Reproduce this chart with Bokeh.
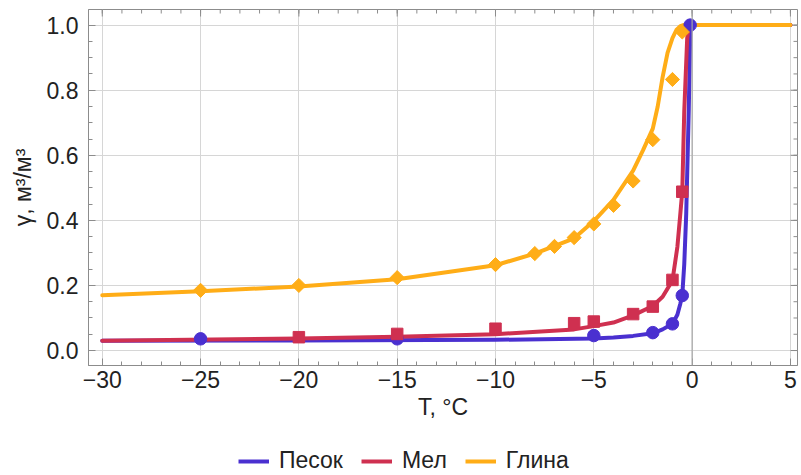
import numpy as np
from bokeh.plotting import figure
from bokeh.layouts import column
from bokeh.models import (Range1d, LinearAxis, SingleIntervalTicker, FixedTicker,
                          Span, Legend, LegendItem)
from bokeh.embed import file_html
from bokeh.resources import INLINE

# ---------------- data ----------------
# measured points
sand_t = [-25, -15, -5, -2, -1, -0.5, -0.1]
sand_y = [0.036, 0.036, 0.046, 0.055, 0.082, 0.169, 1.0]

chalk_t = [-20, -15, -10, -6, -5, -3, -2, -1, -0.5]
chalk_y = [0.041, 0.051, 0.067, 0.084, 0.089, 0.112, 0.135, 0.217, 0.488]

clay_t = [-25, -20, -15, -10, -8, -7, -6, -5, -4, -3, -2, -1, -0.5]
clay_y = [0.185, 0.200, 0.224, 0.264, 0.298, 0.320, 0.347, 0.389, 0.446, 0.521, 0.648, 0.833, 0.979]

# fitted curves
sand_curve_t = [-30, -20, -10, -5, -4, -3, -2, -1.5, -1, -0.75, -0.6, -0.5, -0.4, -0.3, -0.17, -0.09, 0, 5]
sand_curve_y = [0.030, 0.031, 0.033, 0.037, 0.040, 0.045, 0.053, 0.065, 0.082, 0.110, 0.144, 0.170, 0.265, 0.420, 0.740, 0.995, 1.0, 1.0]

chalk_curve_t = [-30, -20, -15, -10, -6, -5, -4, -3, -2, -1.5, -1, -0.75, -0.6, -0.5, -0.4, -0.25, -0.17, 0, 5]
chalk_curve_y = [0.030, 0.037, 0.042, 0.050, 0.065, 0.075, 0.086, 0.108, 0.137, 0.165, 0.215, 0.318, 0.420, 0.490, 0.735, 0.960, 1.0, 1.0, 1.0]

clay_curve_t = [-30, -25, -20, -15, -10, -8, -6, -5, -4, -3, -2.5, -2, -1.75, -1.5, -1.25, -1, -0.8, -0.6, -0.45, 5]
clay_curve_y = [0.170, 0.182, 0.197, 0.219, 0.262, 0.298, 0.345, 0.398, 0.463, 0.553, 0.615, 0.682, 0.750, 0.840, 0.915, 0.960, 0.985, 0.997, 1.0, 1.0]

names = ["Песок", "Мел", "Глина"]
colors = ["#4a30d0", "#cf3050", "#ffad17"]

x_ticks = [-30, -25, -20, -15, -10, -5, 0, 5]
y_ticks = [0.0, 0.2, 0.4, 0.6, 0.8, 1.0]

FONT = "Liberation Sans"
FS = "23px"
TXT = "#222222"
FRAME = "#8c8c8c"
X0, X1 = -30.70, 5.36
Y0, Y1 = -0.046, 1.048

p = figure(width=799, height=430, output_backend="svg", toolbar_location=None,
           x_range=Range1d(X0, X1), y_range=Range1d(Y0, Y1),
           x_axis_location=None, y_axis_location=None,
           min_border_left=88, min_border_right=2, min_border_top=9, min_border_bottom=65)
p.outline_line_color = FRAME
p.outline_line_width = 1
p.background_fill_color = "white"


def style_axis(ax):
    ax.axis_line_color = FRAME
    ax.major_tick_line_color = FRAME
    ax.minor_tick_line_color = FRAME
    ax.major_tick_in = 7
    ax.major_tick_out = 0
    ax.minor_tick_in = 4
    ax.minor_tick_out = 0
    ax.major_label_text_font = FONT
    ax.major_label_text_color = TXT
    ax.major_label_text_font_size = FS
    ax.axis_label_text_font = FONT
    ax.axis_label_text_color = TXT
    ax.axis_label_text_font_style = "normal"
    ax.axis_label_text_font_size = FS


bottom = LinearAxis(ticker=SingleIntervalTicker(interval=5, num_minor_ticks=5), axis_label="T, °C")
style_axis(bottom)
bottom.major_label_standoff = 5
bottom.axis_label_standoff = 3
bottom.major_label_overrides = {t: ("−" + str(abs(t)) if t < 0 else str(t)) for t in x_ticks}
p.add_layout(bottom, "below")

left = LinearAxis(ticker=SingleIntervalTicker(interval=0.2, num_minor_ticks=4), axis_label="γ, м³/м³")
style_axis(left)
left.major_label_standoff = 10
left.axis_label_standoff = 8
left.major_label_overrides = {t: f"{t:.1f}" for t in y_ticks}
p.add_layout(left, "left")

p.xgrid.ticker = FixedTicker(ticks=x_ticks)
p.ygrid.ticker = FixedTicker(ticks=y_ticks)
p.xgrid.grid_line_color = "#d6d6d6"
p.ygrid.grid_line_color = "#d6d6d6"

# tick marks on the top and right frame edges (clipped half-dashes)
x_major = np.array(x_ticks, dtype=float)
x_minor = np.arange(-30, 6, 1.0)
y_major = np.array(y_ticks)
y_minor = np.round(np.arange(0, 1.0001, 0.05), 3)
p.scatter(x_minor, [Y1] * len(x_minor), marker="dash", angle=np.pi / 2, size=8, line_color=FRAME, line_width=1)
p.scatter(x_major, [Y1] * len(x_major), marker="dash", angle=np.pi / 2, size=14, line_color=FRAME, line_width=1)
p.scatter([X1] * len(y_minor), y_minor, marker="dash", size=8, line_color=FRAME, line_width=1)
p.scatter([X1] * len(y_major), y_major, marker="dash", size=14, line_color=FRAME, line_width=1)

p.add_layout(Span(location=0, dimension="height", line_color="#a6a6a6", line_width=1.2))

curves = [(sand_curve_t, sand_curve_y), (chalk_curve_t, chalk_curve_y), (clay_curve_t, clay_curve_y)]
for (ct, cy), c in zip(curves, colors):
    p.line(ct, cy, line_color=c, line_width=4, line_join="round", line_cap="round")

p.scatter(sand_t, sand_y, marker="circle", size=12.5, fill_color=colors[0], line_color=colors[0])
p.scatter(chalk_t, chalk_y, marker="square", size=11.5, fill_color=colors[1], line_color=colors[1])
p.scatter(clay_t, clay_y, marker="square", size=10, angle=np.pi / 4,
          fill_color=colors[2], line_color=colors[2])

# legend strip below the chart (its frame is aligned with the chart's frame)
lf = figure(width=799, height=45, output_backend="svg", toolbar_location=None,
            x_range=Range1d(0, 1), y_range=Range1d(0, 1),
            x_axis_location=None, y_axis_location=None,
            min_border_left=0, min_border_right=0, min_border_top=0, min_border_bottom=0)
lf.outline_line_color = None
lf.xgrid.visible = False
lf.ygrid.visible = False
leg_lines = [lf.line(x=[np.nan, np.nan], y=[np.nan, np.nan], line_color=c, line_width=4) for c in colors]

legend = Legend(items=[LegendItem(label=n, renderers=[r]) for n, r in zip(names, leg_lines)],
                orientation="horizontal", location=(150, 1))
legend.label_text_font = FONT
legend.label_text_font_size = FS
legend.label_text_color = TXT
legend.glyph_width = 31
legend.glyph_height = 22
legend.label_standoff = 10
legend.spacing = 18
legend.padding = 2
legend.margin = 0
legend.border_line_color = None
legend.background_fill_alpha = 0
lf.add_layout(legend)

layout = column(p, lf, spacing=0)
open("out.html", "w").write(file_html(layout, INLINE))
